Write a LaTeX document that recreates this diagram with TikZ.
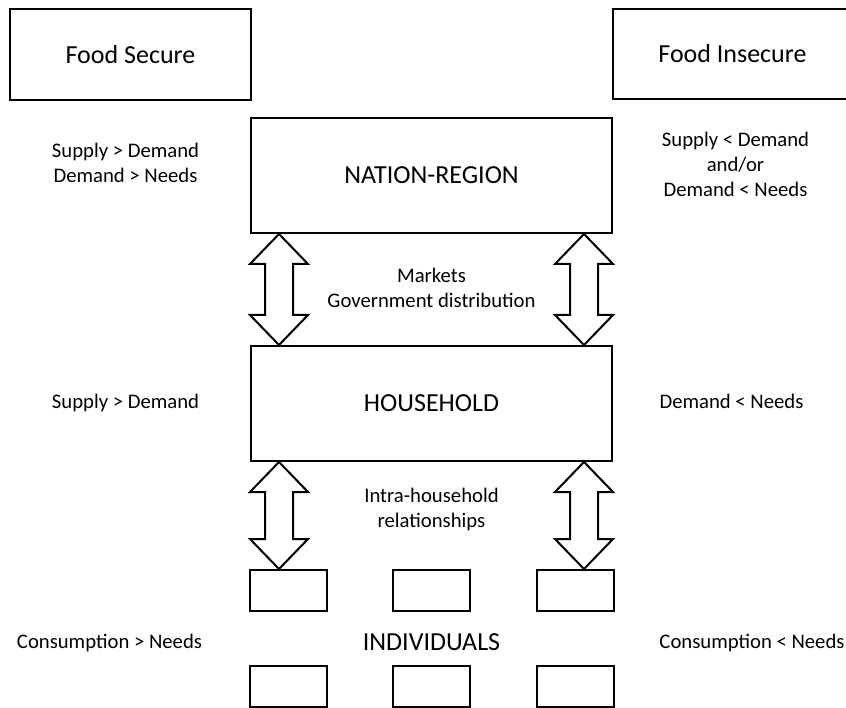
\documentclass[tikz,border=0pt]{standalone}
\usepackage{fontspec}
\setmainfont{Carlito}
\usetikzlibrary{calc}
% hollow double-headed block arrow between two points on one vertical line
\newcommand\dblarrow[2]{%
  \draw[blockarrow] (#1) -- ++(29,30) -- ++(-15,0) -- ($(#2)+(14,-30)$) -- ++(15,0)
    -- (#2) -- ++(-29,-30) -- ++(15,0) -- ($(#1)+(-14,30)$) -- ++(-15,0) -- cycle;}
\begin{document}
\begin{tikzpicture}[x=1pt,y=-1pt,
  box/.style={draw, line width=2pt, inner sep=0pt},
  big/.style={font=\fontsize{26}{31}\selectfont},
  small/.style={font=\fontsize{20.7}{25}\selectfont, align=center, inner sep=0pt},
  blockarrow/.style={draw, line width=2pt, fill=white, line join=miter}]
\useasboundingbox (0,0) rectangle (846,708);
\clip (0,0) rectangle (846,708);

% headers
\node[box,big,minimum width=241,minimum height=91] (secure) at (130.5,54.5) {Food Secure};
\node[box,big,minimum width=239,minimum height=90] (insecure) at (732.5,54) {Food Insecure};

% levels
\node[box,big,minimum width=361,minimum height=115] (nation) at (431.5,175.5) {NATION-REGION};
\node[box,big,minimum width=361,minimum height=115] (household) at (431.5,403.5) {HOUSEHOLD};

\foreach \n/\x/\y in {i1/288.5/590.5, i2/431/590.5, i3/575/590.5,
                      i4/288.5/686.5, i5/431/686.5, i6/575/686.5}
  \node[box,minimum width=77,minimum height=41] (\n) at (\x,\y) {};
\node[big,anchor=base] (indiv) at (431.5,650) {INDIVIDUALS};

% arrow end points
\coordinate (nl) at ($(nation.south)+(-152.5,0)$);
\coordinate (nr) at ($(nation.south)+(152.5,0)$);
\coordinate (hlt) at ($(household.north)+(-152.5,0)$);
\coordinate (hrt) at ($(household.north)+(152.5,0)$);
\coordinate (hlb) at ($(household.south)+(-152.5,0)$);
\coordinate (hrb) at ($(household.south)+(152.5,0)$);
\coordinate (il) at (i1.north -| hlb);
\coordinate (ir) at (i3.north -| hrb);

\dblarrow{nl}{hlt}
\dblarrow{nr}{hrt}
\dblarrow{hlb}{il}
\dblarrow{hrb}{ir}

% side conditions (base = baseline of the last line)
\node[small,anchor=base] (sn) at (125.5,183) {Supply > Demand\\Demand > Needs};
\node[small,anchor=base] (in) at (735.5,197) {Supply < Demand\\and/or\\Demand < Needs};
\node[small,anchor=base] (sh) at (125.5,409) {Supply > Demand};
\node[small,anchor=base] (ih) at (731.5,409) {Demand < Needs};
\node[small,anchor=base] (si) at (109.5,648) {Consumption > Needs};
\node[small,anchor=base] (ii) at (752,648) {Consumption < Needs};

% links between levels
\node[small,anchor=base] (mk) at (431.5,308) {Markets\\Government distribution};
\node[small,anchor=base] (ih2) at (431.5,527) {Intra-household\\relationships};
\end{tikzpicture}
\end{document}
